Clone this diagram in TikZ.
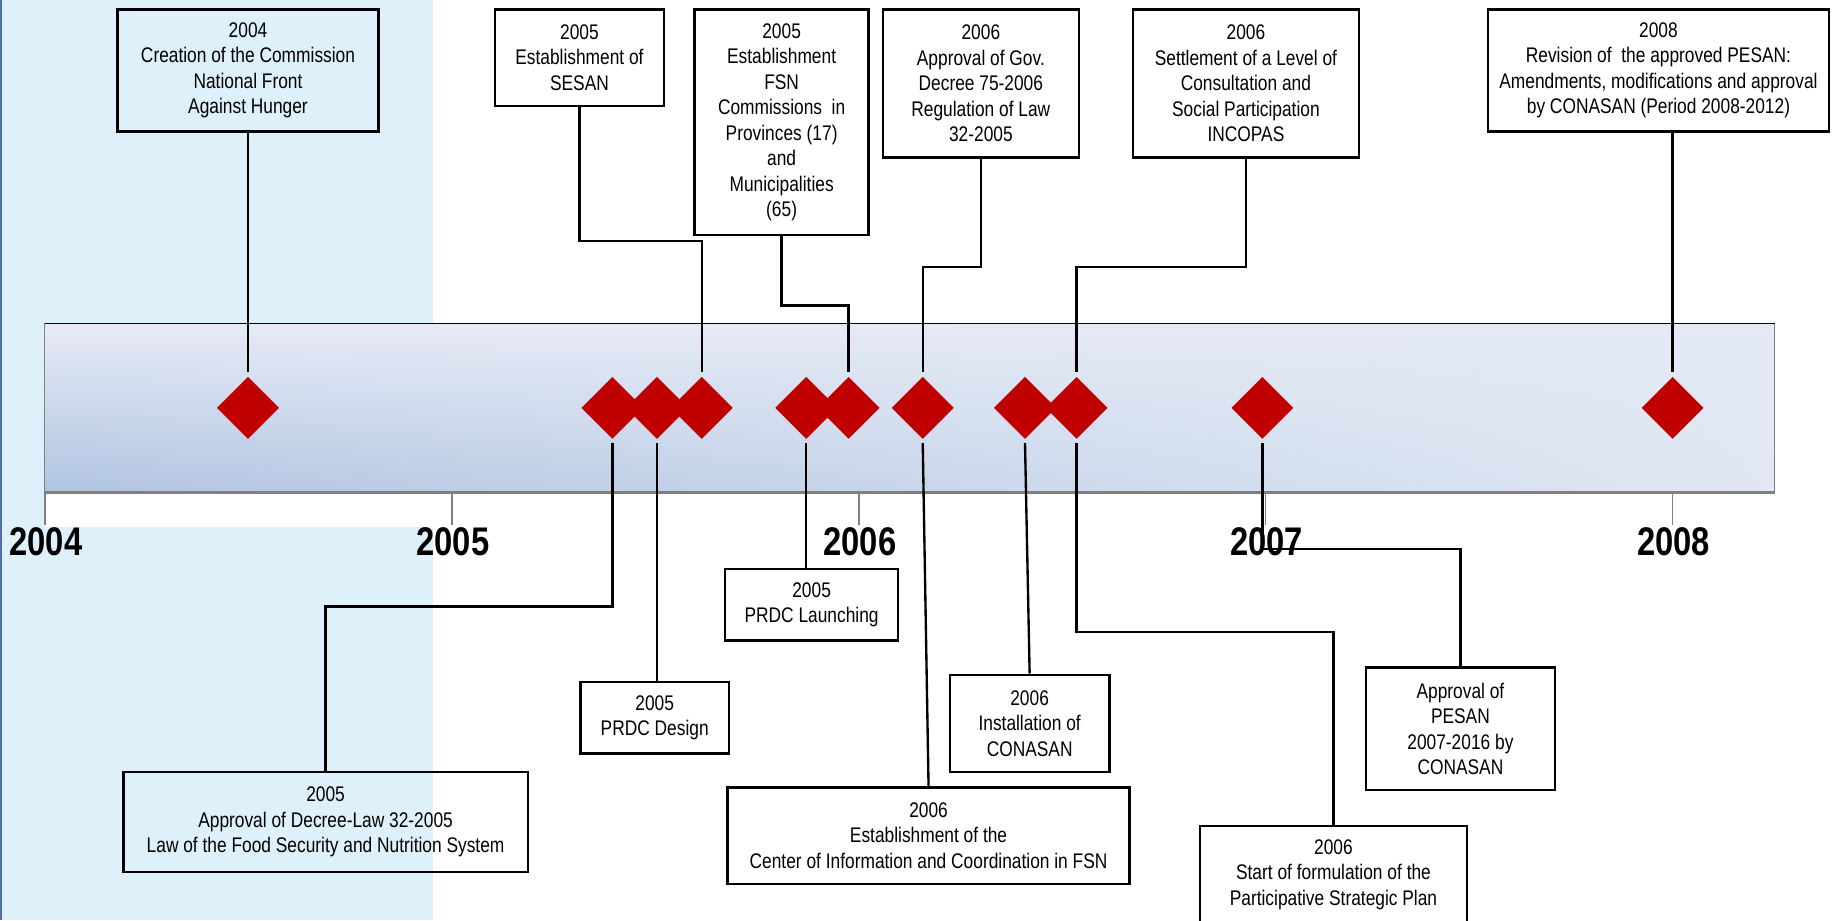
\documentclass[tikz,border=0pt]{standalone}
\usepackage{fontspec}
\setmainfont{Liberation Sans}[FakeStretch=0.82]
\usetikzlibrary{shapes.geometric,fadings}
\definecolor{leftblue}{HTML}{DEF1FA}
\definecolor{edgeblue}{HTML}{4F6FA8}
\definecolor{bartop}{HTML}{E7EBF6}
\definecolor{barbot}{HTML}{B0C4E1}
\definecolor{barright}{HTML}{E4EAF5}
\definecolor{markred}{HTML}{C00000}
\tikzfading[name=barfade, left color=transparent!100,
  middle color=transparent!85, right color=transparent!5]

\begin{document}
\begin{tikzpicture}[x=0.5pt,y=-0.5pt,
    event/.style={draw, line width=1pt, align=center, inner sep=2pt,
      font=\fontsize{9}{10.85}\selectfont},
    gem/.style={diamond, fill=markred, inner sep=0pt, minimum size=26.5pt},
    link/.style={line width=1pt},
    year/.style={font=\fontsize{17}{20}\selectfont\bfseries},
    yeartick/.style={gray, line width=0.75pt}]
  \useasboundingbox (0,0) rectangle (1568,783);
  \clip (0,0) rectangle (1568,783);
  % background
  \fill[white] (0,0) rectangle (1568,783);
  \fill[leftblue] (0,0) rectangle (368,783);
  \draw[edgeblue, line width=1pt] (0.5,0) -- (0.5,783);
  \fill[white] (38,419) rectangle (368,448);
  % time bar
  \shade[top color=bartop, bottom color=barbot] (38,275) rectangle (1510,419);
  \fill[barright, path fading=barfade] (38,275) rectangle (1510,419);
  \draw[gray, line width=0.5pt] (38,275) rectangle (1510,419);
  \draw[line width=0.6pt] (38,275) -- (1510,275);
  \draw[gray, line width=1.2pt] (38,419) -- (1510,419);
  % years
  \foreach \yr [count=\i from 0] in {2004,2005,2006,2007,2008} {
    \draw[yeartick] ({38+346.25*\i},419) -- ++(0,28);
    \node[year] (y\yr) at ({39+346.25*\i},461) {\yr};
  }
  % milestones
  \foreach \x [count=\i] in {211,521,559,597,686,722,785,872,916,1074,1423}
    \node[gem] (d\i) at (\x,347) {};
  % events above
  \node[event, minimum width=111pt, minimum height=52pt] (b1) at (211,60)
    {2004\\Creation of the Commission\\National Front\\Against Hunger};
  \node[event, minimum width=72pt, minimum height=41pt] (b2) at (493,49)
    {2005\\Establishment of\\SESAN};
  \node[event, minimum width=74pt, minimum height=96pt] (b3) at (665,104)
    {2005\\Establishment\\FSN\\Commissions~ in\\Provinces (17)\\and\\Municipalities\\(65)};
  \node[event, minimum width=83.5pt, minimum height=63pt] (b4) at (834.5,71)
    {2006\\Approval of Gov.\\Decree 75-2006\\Regulation of Law\\32-2005};
  \node[event, minimum width=96pt, minimum height=63pt] (b5) at (1060,71)
    {2006\\Settlement of a Level of\\Consultation and\\Social Participation\\INCOPAS};
  \node[event, minimum width=145pt, minimum height=52pt] (b6) at (1411,60)
    {2008\\Revision of~ the approved PESAN:\\Amendments, modifications and approval\\by CONASAN (Period 2008-2012)};
  % events below
  \node[event, minimum width=172pt, minimum height=42.5pt] (b7) at (277,699.5)
    {2005\\Approval of Decree-Law 32-2005\\Law of the Food Security and Nutrition System};
  \node[event, minimum width=63pt, minimum height=30.5pt] (b8) at (557,610.5)
    {2005\\PRDC Design};
  \node[event, minimum width=73.5pt, minimum height=30.5pt] (b9) at (690.5,514.5)
    {2005\\PRDC Launching};
  \node[event, minimum width=171pt, minimum height=41pt] (b10) at (790,711)
    {2006\\Establishment of the\\Center of Information and Coordination in FSN};
  \node[event, minimum width=68pt, minimum height=41.5pt] (b11) at (876,615.5)
    {2006\\Installation of\\CONASAN};
  \node[event, minimum width=113.5pt, minimum height=41pt] (b12) at (1134.5,744)
    {2006\\Start of formulation of the\\Participative Strategic Plan};
  \node[event, minimum width=80.5pt, minimum height=52pt] (b13) at (1242.5,620)
    {Approval of\\PESAN\\2007-2016 by\\CONASAN};
  % connectors
  \draw[link, shorten >=2pt] (b1) -- (d1);
  \draw[link, shorten >=2pt] (b2.south) -- ++(0,114) -| (d4.north);
  \draw[link, shorten >=2pt] (b3.south) -- ++(0,59) -| (d6.north);
  \draw[link, shorten >=2pt] (b4.south) -- ++(0,92) -| (d7.north);
  \draw[link, shorten >=2pt] (b5.south) -- ++(0,92) -| (d9.north);
  \draw[link, shorten >=2pt] (b6.south -| d11.north) -- (d11.north);
  \draw[link, shorten <=1.5pt] (d2.south) -- ++(0,142) -| (b7.north);
  \draw[link, shorten <=1.5pt] (d3.south) -- (d3.south |- b8.north);
  \draw[link, shorten <=1.5pt] (d5.south) -- (d5.south |- b9.north);
  \draw[link, shorten <=1.5pt] (d7.south) -- (b10.north);
  \draw[link, shorten <=1.5pt] (d8.south) -- (b11.north);
  \draw[link, shorten <=1.5pt] (d9.south) -- ++(0,164) -| (b12.north);
  \draw[link, shorten <=1.5pt] (d10.south) -- ++(0,93) -| (b13.north);
\end{tikzpicture}
\end{document}
